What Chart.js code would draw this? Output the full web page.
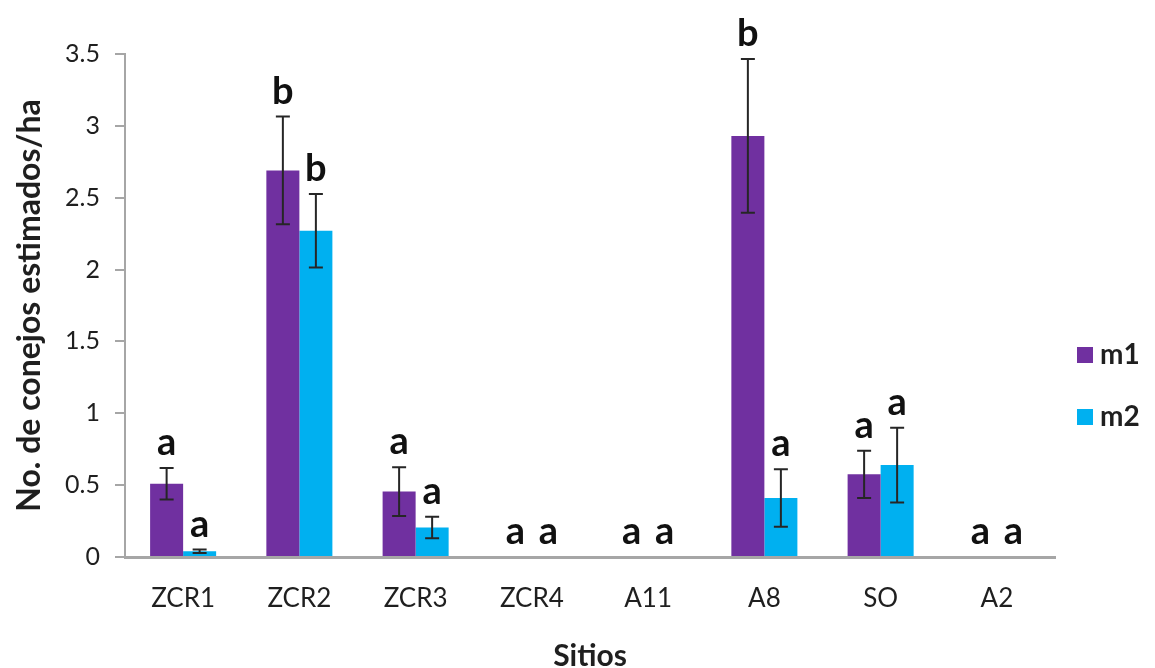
<!DOCTYPE html>
<html><head><meta charset="utf-8">
<script src="https://cdn.jsdelivr.net/npm/chart.js@4.4.1/dist/chart.umd.min.js"></script>
<style>html,body{margin:0;padding:0;background:#fff;overflow:hidden}#wrap{width:1155px;height:668px;position:relative}</style>
</head><body><div id="wrap"><canvas id="c" width="1155" height="668"></canvas></div>
<script>
const categories = ['ZCR1','ZCR2','ZCR3','ZCR4','A11','A8','SO','A2'];
const m1Values = [0.51, 2.69, 0.455, 0, 0, 2.93, 0.575, 0];
const m1Errors = [0.11, 0.375, 0.17, 0, 0, 0.535, 0.165, 0];
const m2Values = [0.04, 2.27, 0.205, 0, 0, 0.41, 0.64, 0];
const m2Errors = [0.012, 0.255, 0.075, 0, 0, 0.2, 0.26, 0];
const m1Letters = ['a','b','a','a','a','b','a','a'];
const m2Letters = ['a','b','a','a','a','a','a','a'];
const yTicks = [0, 0.5, 1, 1.5, 2, 2.5, 3, 3.5];
const seriesNames = ['m1', 'm2'];

const PURPLE = '#7030A0', CYAN = '#00B0F0', AXIS = '#a6a6a6', TXT = '#1f1f1f';
const errs = [m1Errors, m2Errors];
const letters = [m1Letters, m2Letters];

const errorAndLetters = {
  id: 'errorAndLetters',
  afterDatasetsDraw(chart) {
    const ctx = chart.ctx, y = chart.scales.y;
    chart.data.datasets.forEach((ds, i) => {
      const meta = chart.getDatasetMeta(i);
      meta.data.forEach((bar, j) => {
        const v = ds.data[j], e = errs[i][j];
        const x = bar.x;
        ctx.save();
        if (e > 0) {
          const yt = y.getPixelForValue(v + e), yb = y.getPixelForValue(v - e);
          ctx.strokeStyle = '#262626';
          ctx.lineWidth = 2;
          ctx.beginPath();
          ctx.moveTo(x, yt); ctx.lineTo(x, yb);
          ctx.moveTo(x - 7, yt); ctx.lineTo(x + 7, yt);
          ctx.moveTo(x - 7, yb); ctx.lineTo(x + 7, yb);
          ctx.stroke();
        }
        const top = y.getPixelForValue(v + e);
        ctx.fillStyle = '#111';
        ctx.font = 'bold 38px Lato';
        ctx.textAlign = 'center';
        ctx.textBaseline = 'alphabetic';
        ctx.fillText(letters[i][j], x, top - 13);
        ctx.restore();
      });
    });
  },
  afterDraw(chart) {
    const ctx = chart.ctx;
    chart.data.datasets.forEach((ds, i) => {
      const cy = 355 + 62 * i;
      ctx.save();
      ctx.fillStyle = ds.backgroundColor;
      ctx.fillRect(1077, cy - 8, 16, 16);
      ctx.fillStyle = TXT;
      ctx.font = 'bold 28px Lato';
      ctx.textAlign = 'left';
      ctx.textBaseline = 'middle';
      ctx.fillText(ds.label, 1100, cy);
      ctx.restore();
    });
  }
};

new Chart(document.getElementById('c'), {
  type: 'bar',
  data: {
    labels: categories,
    datasets: [
      { label: seriesNames[0], data: m1Values, backgroundColor: PURPLE },
      { label: seriesNames[1], data: m2Values, backgroundColor: CYAN }
    ]
  },
  options: {
    responsive: false,
    animation: false,
    devicePixelRatio: 1,
    layout: { padding: { top: 54, right: 100, left: 0, bottom: 0 } },
    datasets: { bar: { categoryPercentage: 0.568, barPercentage: 1 } },
    plugins: { legend: { display: false }, tooltip: { enabled: false } },
    scales: {
      x: {
        grid: { display: false },
        border: { display: true, color: AXIS, width: 3 },
        ticks: { color: TXT, font: { family: 'Lato', size: 26 }, padding: 18, maxRotation: 0 },
        title: { display: true, text: 'Sitios', color: TXT, font: { family: 'Lato', size: 30, weight: 'bold', lineHeight: 0.8 }, padding: { top: 0, bottom: 0 } },
        afterFit(s) { s.height = 111; }
      },
      y: {
        min: 0, max: 3.5,
        afterBuildTicks(s) { s.ticks = yTicks.map(v => ({ value: v })); },
        grid: { display: true, drawOnChartArea: false, drawTicks: true, tickLength: 10, color: AXIS, lineWidth: 2 },
        border: { display: true, color: AXIS, width: 2 },
        ticks: { color: TXT, font: { family: 'Lato', size: 25 }, padding: 15, callback: v => String(v) },
        title: { display: true, text: 'No. de conejos estimados/ha', color: TXT, font: { family: 'Lato', size: 32, weight: 'bold', lineHeight: 1.2 }, padding: { top: 10, bottom: 0 } },
        afterFit(s) { s.width = 125; }
      }
    }
  },
  plugins: [errorAndLetters]
});
</script></body></html>
